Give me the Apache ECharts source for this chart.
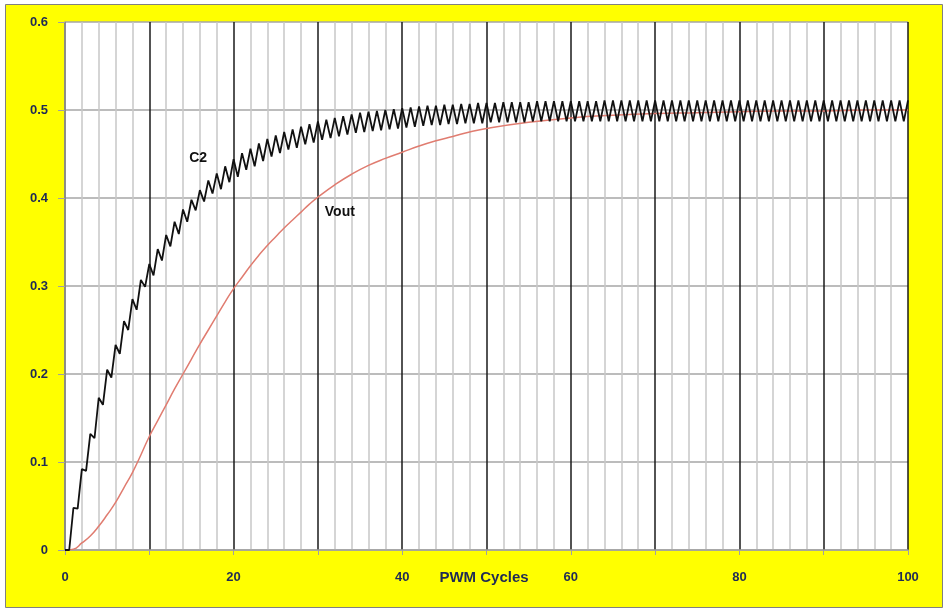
<!DOCTYPE html>
<html>
<head>
<meta charset="utf-8">
<script src="https://cdn.jsdelivr.net/npm/echarts@6/dist/echarts.min.js"></script>
<style>
html,body{margin:0;padding:0;background:#fff;}
#c{width:950px;height:613px;}
</style>
</head>
<body>
<div id="c"></div>
<script>
// C2 peaks at cycles 1..100
const c2Peaks = [0.048,0.092,0.132,0.173,0.205,0.233,0.260,0.285,0.307,0.325,
 0.342,0.358,0.373,0.387,0.398,0.409,0.420,0.428,0.436,0.444,
 0.451,0.456,0.462,0.467,0.471,0.475,0.478,0.481,0.484,0.487,
 0.489,0.491,0.493,0.495,0.497,0.498,0.499,0.500,0.501,0.502,
 0.503,0.504,0.505,0.505,0.506,0.506,0.507,0.507,0.508,0.508,
 0.508,0.509,0.509,0.509,0.509,0.510,0.510,0.510,0.510,0.510,
 0.510,0.510,0.510,0.511,0.511,0.511,0.511,0.511,0.511,0.511,
 0.511,0.511,0.511,0.511,0.511,0.511,0.511,0.511,0.511,0.511,
 0.511,0.511,0.511,0.511,0.511,0.511,0.511,0.511,0.511,0.511,
 0.511,0.511,0.511,0.511,0.511,0.511,0.511,0.511,0.511,0.511];
// C2 troughs at cycles 0.5..99.5
const c2Troughs = [0.000,0.047,0.090,0.127,0.165,0.196,0.223,0.250,0.273,0.299,
 0.312,0.329,0.345,0.359,0.373,0.386,0.396,0.405,0.410,0.418,
 0.424,0.432,0.436,0.442,0.447,0.451,0.455,0.457,0.461,0.463,
 0.466,0.468,0.470,0.472,0.474,0.475,0.476,0.477,0.478,0.479,
 0.480,0.481,0.482,0.483,0.483,0.484,0.484,0.485,0.485,0.485,
 0.486,0.486,0.486,0.486,0.486,0.487,0.487,0.487,0.487,0.487,
 0.487,0.487,0.487,0.487,0.487,0.487,0.487,0.487,0.487,0.487,
 0.487,0.487,0.487,0.487,0.487,0.487,0.487,0.487,0.487,0.487,
 0.487,0.487,0.487,0.487,0.487,0.487,0.487,0.487,0.487,0.487,
 0.487,0.487,0.487,0.487,0.487,0.487,0.487,0.487,0.487,0.487];
// Vout
const voutX = [0,1,2,3,4,5,6,7,8,9,10,11,12,13,14,15,16,17,18,19,20,21,22,23,24,25,26,27,28,29,30,32,34,36,38,40,42,44,46,48,50,55,60,65,70,75,80,85,90,95,100];
const voutY = [0,0.001,0.008,0.016,0.027,0.040,0.054,0.071,0.088,0.108,0.129,0.147,0.165,0.183,0.200,0.217,0.234,0.250,0.266,0.282,0.297,0.310,0.323,0.335,0.346,0.356,0.366,0.375,0.384,0.393,0.401,0.415,0.427,0.437,0.445,0.452,0.459,0.465,0.470,0.475,0.479,0.486,0.491,0.494,0.496,0.497,0.498,0.499,0.499,0.500,0.500];
const xTickLabels = ['0','20','40','60','80','100'];
const yTickLabels = ['0','0.1','0.2','0.3','0.4','0.5','0.6'];
const xTitle = 'PWM Cycles';
const c2Name = 'C2';
const voutName = 'Vout';

const c2Data = [[0,0]];
for (let i = 0; i < c2Peaks.length; i++) {
  c2Data.push([i + 0.5, c2Troughs[i]]);
  c2Data.push([i + 1, c2Peaks[i]]);
}
const voutData = voutX.map((x, i) => [x, voutY[i]]);

const navy = '#1f2a55';
const font = '"Liberation Sans", Arial, sans-serif';
const tagLabel = (txt) => ({
  symbol: 'circle', symbolSize: 1,
  itemStyle: {color: 'rgba(0,0,0,0)'},
  label: {show: true, position: 'inside', formatter: txt, color: '#111', fontFamily: font, fontWeight: 'bold', fontSize: 14}
});
const chart = echarts.init(document.getElementById('c'), null, {renderer: 'canvas'});
chart.setOption({
  animation: false,
  backgroundColor: '#ffffff',
  graphic: [{
    type: 'rect', z: -100,
    shape: {x: 5.5, y: 4.5, width: 937, height: 603},
    style: {fill: '#ffff00', stroke: '#808080', lineWidth: 1}
  }],
  grid: {left: 65, right: 42, top: 22, bottom: 63, show: true, backgroundColor: '#ffffff', borderWidth: 0},
  xAxis: {
    type: 'value', min: 0, max: 100, interval: 10,
    name: xTitle, nameLocation: 'middle', nameGap: 20, nameMoveOverlap: false,
    nameTextStyle: {color: navy, fontFamily: font, fontWeight: 'bold', fontSize: 15, padding: [0, 0, 0, -5]},
    axisLine: {lineStyle: {color: '#a0a0a0', width: 1.5}},
    axisTick: {show: true, length: 5, lineStyle: {color: '#a0a0a0'}},
    axisLabel: {
      color: navy, fontFamily: font, fontSize: 13, fontWeight: 'bold', margin: 21,
      formatter: v => (v % 20 === 0 ? xTickLabels[v / 20] : '')
    },
    splitLine: {show: true, lineStyle: {color: '#1a1a1a', width: 1.5}},
    minorTick: {show: false, splitNumber: 5},
    minorSplitLine: {show: true, lineStyle: {color: '#c8c8c8', width: 1.5}}
  },
  yAxis: {
    type: 'value', min: 0, max: 0.6, interval: 0.1,
    axisLine: {show: true, lineStyle: {color: '#a0a0a0', width: 1.5}},
    axisTick: {show: true, length: 7, lineStyle: {color: '#a0a0a0'}},
    axisLabel: {
      color: navy, fontFamily: font, fontSize: 13, fontWeight: 'bold', margin: 17,
      formatter: v => yTickLabels[Math.round(v * 10)]
    },
    splitLine: {show: true, lineStyle: {color: '#a6a6a6', width: 1.5}}
  },
  series: [
    {
      name: voutName, type: 'line', data: voutData, smooth: true, symbol: 'none',
      lineStyle: {color: '#e07c70', width: 1.5}, z: 3,
      markPoint: Object.assign(tagLabel(voutName), {data: [{coord: [32.6, 0.384]}]})
    },
    {
      name: c2Name, type: 'line', data: c2Data, symbol: 'none',
      lineStyle: {color: '#111111', width: 1.8}, z: 4,
      markPoint: Object.assign(tagLabel(c2Name), {data: [{coord: [15.8, 0.445]}]})
    }
  ]
});
</script>
</body>
</html>
